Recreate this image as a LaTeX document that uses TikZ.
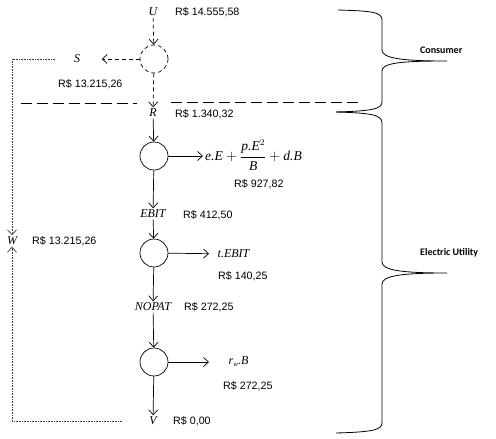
\documentclass[tikz,border=0pt]{standalone}
\usepackage{fontspec}
\setmainfont{Liberation Sans}
\newfontfamily\serfont{Liberation Serif}
\newfontfamily\calfont{Carlito}
\usetikzlibrary{arrows.meta}
\begin{document}
\begin{tikzpicture}[x=1pt,y=-1pt,
  font=\fontsize{10.7}{12}\selectfont,
  var/.style={font=\fontsize{12}{13}\selectfont\serfont\itshape, inner sep=1.5pt},
  val/.style={anchor=west, inner sep=0pt},
  junction/.style={circle, draw, minimum size=28pt, inner sep=0pt, line width=0.7pt},
  flow/.style={-{Straight Barb[length=5pt,width=9pt]}, line width=0.7pt},
  dflow/.style={flow, dash pattern=on 4pt off 3pt},
  sep/.style={line width=0.8pt, dash pattern=on 11pt off 5pt},
  dots/.style={line width=0.7pt, black!75, dash pattern=on 0.8pt off 0.8pt},
  dotflow/.style={dots, -{Straight Barb[length=5pt,width=9pt]}},
  brace/.style={line width=0.8pt},
  group/.style={font=\fontsize{10}{11}\selectfont\calfont\bfseries, anchor=west, inner sep=0pt}
]
\useasboundingbox (0,0) rectangle (496,439);

% main column
\node[var] (U) at (153,12) {U};
\node[val] (vU) at (175,12) {R\$ 14.555,58};
\node[junction, dash pattern=on 4pt off 3pt] (c1) at (154,59) {};
\node[var] (S) at (77,59) {S};
\node[val] (vS) at (58,84) {R\$ 13.215,26};
\node[var] (R) at (153,113) {R};
\node[val] (vR) at (175,114) {R\$ 1.340,32};

\node[junction] (c2) at (154,156) {};
\node[anchor=west, inner sep=2pt, font=\fontsize{13.5}{15}\selectfont\serfont\itshape] (f1) at (203,155)
  {$\mbox{e.E}+\displaystyle\frac{\mbox{p.E}^{2}}{\mbox{B}}+\mbox{d.B}$};
\node[val] (vf1) at (234,184) {R\$ 927,82};

\node[var] (EBIT) at (153,214) {EBIT};
\node[val] (vEBIT) at (183,215) {R\$ 412,50};
\node[junction] (c3) at (154,253) {};
\node[var, anchor=west] (tEBIT) at (216,254) {t.EBIT};
\node[val] (vt) at (218,276) {R\$ 140,25};

\node[var] (NOPAT) at (153,307) {NOPAT};
\node[val] (vNOPAT) at (184,307) {R\$ 272,25};
\node[junction] (c4) at (154,362) {};
\node[var, anchor=west] (rwB) at (227,362) {r\raisebox{-2pt}{\fontsize{7}{8}\selectfont w}.B};
\node[val] (vrw) at (223,386) {R\$ 272,25};

\node[var] (V) at (153,421) {V};
\node[val] (vV) at (173,421) {R\$ 0,00};

\node[var] (W) at (12,241) {W};
\node[val] (vW) at (32,241) {R\$ 13.215,26};

% connectors
\draw[dflow] (U) -- (c1);
\draw[dflow, shorten >=20pt] (c1) -- (S);
\draw[dflow] (c1) -- (R);
\draw[flow] (R) -- (c2);
\draw[flow] (c2.east) -- (c2.east -| f1.west);
\draw[flow] (c2) -- (EBIT);
\draw[flow] (EBIT) -- (c3);
\draw[flow, shorten >=7pt] (c3) -- (tEBIT);
\draw[flow] (c3) -- (NOPAT);
\draw[flow] (NOPAT) -- (c4);
\draw[flow, shorten >=18pt] (c4) -- (rwB);
\draw[flow] (c4) -- (V);

% dotted feedback
\coordinate (d1) at (55,59);
\coordinate (d2) at (122,421);
\draw[dotflow] (d1) -| (W);
\draw[dotflow] (d2) -| (W);

% separator
\coordinate (s1) at (21,103);
\coordinate (s2) at (137,103);
\coordinate (s3) at (171,102);
\coordinate (s4) at (360,102);
\draw[sep] (s1) -- (s2);
\draw[sep] (s3) -- (s4);

% braces
\draw[brace] (338,10) .. controls (372,11) and (382,12) .. (382,20) -- (382,50)
  .. controls (382,58) and (400,61) .. (447,61)
  .. controls (400,61) and (382,63) .. (382,71) -- (382,102)
  .. controls (382,109) and (372,111) .. (336,112);
\draw[brace] (336,112) .. controls (372,113) and (382,115) .. (382,123) -- (382,262)
  .. controls (382,270) and (400,273) .. (447,273)
  .. controls (400,273) and (382,276) .. (382,284) -- (382,423)
  .. controls (382,430) and (372,432) .. (336,433);

\node[group] (cons) at (420,50) {Consumer};
\node[group] (elec) at (420,253) {Electric Utility};
\end{tikzpicture}
\end{document}
